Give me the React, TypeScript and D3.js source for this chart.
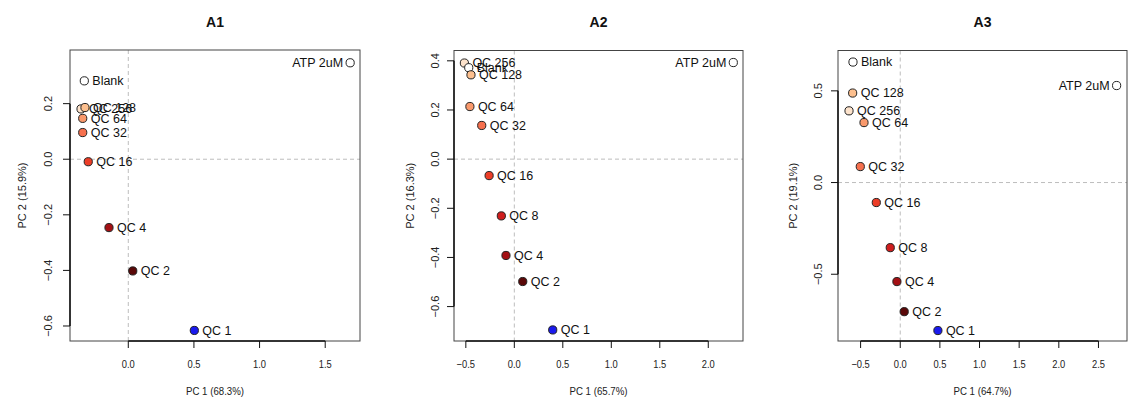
import React from "react";
import * as d3 from "d3";

const titles = ["A1", "A2", "A3"];
const xTitles = ["PC 1 (68.3%)", "PC 1 (65.7%)", "PC 1 (64.7%)"];
const yTitles = ["PC 2 (15.9%)", "PC 2 (16.3%)", "PC 2 (19.1%)"];

const namesA1 = ["ATP 2uM", "Blank", "QC 256", "QC 128", "QC 64", "QC 32", "QC 16", "QC 4", "QC 2", "QC 1"];
const pc1A1 = [1.69, -0.335, -0.36, -0.33, -0.347, -0.347, -0.305, -0.147, 0.034, 0.503];
const pc2A1 = [0.347, 0.282, 0.181, 0.186, 0.147, 0.096, -0.009, -0.246, -0.402, -0.616];

const namesA2 = ["ATP 2uM", "QC 256", "Blank", "QC 128", "QC 64", "QC 32", "QC 16", "QC 8", "QC 4", "QC 2", "QC 1"];
const pc1A2 = [2.258, -0.515, -0.47, -0.447, -0.458, -0.336, -0.26, -0.134, -0.086, 0.087, 0.396];
const pc2A2 = [0.393, 0.391, 0.372, 0.343, 0.214, 0.137, -0.067, -0.231, -0.392, -0.498, -0.695];

const namesA3 = ["Blank", "ATP 2uM", "QC 128", "QC 256", "QC 64", "QC 32", "QC 16", "QC 8", "QC 4", "QC 2", "QC 1"];
const pc1A3 = [-0.596, 2.729, -0.6, -0.646, -0.457, -0.504, -0.302, -0.126, -0.042, 0.05, 0.475];
const pc2A3 = [0.657, 0.529, 0.488, 0.391, 0.327, 0.087, -0.109, -0.355, -0.54, -0.704, -0.807];

const xTicksList = [
  [0, 0.5, 1.0, 1.5],
  [-0.5, 0, 0.5, 1.0, 1.5, 2.0],
  [-0.5, 0, 0.5, 1.0, 1.5, 2.0, 2.5],
];
const yTicksList = [
  [-0.6, -0.4, -0.2, 0, 0.2],
  [-0.6, -0.4, -0.2, 0, 0.2, 0.4],
  [-0.5, 0, 0.5],
];

const xDomains = [[-0.444, 1.765], [-0.622, 2.358], [-0.785, 2.86]];
const yDomains = [[-0.654, 0.393], [-0.74, 0.442], [-0.864, 0.72]];

const sampleColor: Record<string, string> = {
  "ATP 2uM": "#ffffff",
  Blank: "#ffffff",
  "QC 256": "#fde3cc",
  "QC 128": "#fcbf8e",
  "QC 64": "#f9996c",
  "QC 32": "#f6704e",
  "QC 16": "#ec3d27",
  "QC 8": "#cf1e1e",
  "QC 4": "#a31014",
  "QC 2": "#5a0808",
  "QC 1": "#1a1aee",
};

const panels = [
  { names: namesA1, pc1: pc1A1, pc2: pc2A1 },
  { names: namesA2, pc1: pc1A2, pc2: pc2A2 },
  { names: namesA3, pc1: pc1A3, pc2: pc2A3 },
];

const boxes = [
  { left: 70, right: 360, top: 50, bottom: 341, yTickX: 48, yTitleX: 22 },
  { left: 454, right: 743, top: 50.5, bottom: 341, yTickX: 435, yTitleX: 410 },
  { left: 838, right: 1127, top: 50.5, bottom: 341, yTickX: 818, yTitleX: 793 },
];

const fmt = (v: number) => (Math.abs(v) < 1e-9 ? "0.0" : d3.format(".1f")(v).replace("-", "\u2212"));

function Panel({ i }: { i: number }) {
  const b = boxes[i];
  const p = panels[i];
  const x = d3.scaleLinear().domain(xDomains[i]).range([b.left, b.right]);
  const y = d3.scaleLinear().domain(yDomains[i]).range([b.bottom, b.top]);
  const xt = xTicksList[i];
  const yt = yTicksList[i];
  const cx = (b.left + b.right) / 2;
  const cy = (b.top + b.bottom) / 2;
  const font = "'Liberation Sans', Arial, Helvetica, sans-serif";
  return (
    <g>
      <text x={cx} y={27} textAnchor="middle" fontFamily={font} fontWeight="bold" fontSize={14} fill="#111">
        {titles[i]}
      </text>
      <line x1={x(0)} x2={x(0)} y1={b.top} y2={b.bottom} stroke="#bdbdbd" strokeDasharray="4,3" strokeWidth={1} />
      <line x1={b.left} x2={b.right} y1={y(0)} y2={y(0)} stroke="#bdbdbd" strokeDasharray="4,3" strokeWidth={1} />
      <rect x={b.left} y={b.top} width={b.right - b.left} height={b.bottom - b.top} fill="none" stroke="#444" strokeWidth={1} />
      <line x1={x(xt[0])} x2={x(xt[xt.length - 1])} y1={b.bottom} y2={b.bottom} stroke="#111" strokeWidth={1.5} />
      {xt.map((t) => (
        <g key={"x" + t}>
          <line x1={x(t)} x2={x(t)} y1={b.bottom} y2={b.bottom + 7} stroke="#111" strokeWidth={1} />
          <text
            transform={`translate(${x(t)},368) scale(0.85,1)`}
            textAnchor="middle"
            fontFamily={font}
            fontSize={11}
            fill="#222"
          >
            {fmt(t)}
          </text>
        </g>
      ))}
      <text
        transform={`translate(${cx},395) scale(0.88,1)`}
        textAnchor="middle"
        fontFamily={font}
        fontSize={11}
        fill="#222"
      >
        {xTitles[i]}
      </text>
      <line x1={b.left} x2={b.left} y1={y(yt[0])} y2={y(yt[yt.length - 1])} stroke="#111" strokeWidth={1.5} />
      {yt.map((t) => (
        <g key={"y" + t}>
          <line x1={b.left - 7} x2={b.left} y1={y(t)} y2={y(t)} stroke="#111" strokeWidth={1} />
          <text
            transform={`translate(${b.yTickX},${y(t)}) rotate(-90)`}
            textAnchor="middle"
            dy="0.35em"
            fontFamily={font}
            fontSize={11}
            fill="#222"
          >
            {fmt(t)}
          </text>
        </g>
      ))}
      <text
        transform={`translate(${b.yTitleX},${cy}) rotate(-90)`}
        textAnchor="middle"
        dy="0.35em"
        fontFamily={font}
        fontSize={11}
        fill="#222"
      >
        {yTitles[i]}
      </text>
      {p.names.map((n, k) => {
        const px = x(p.pc1[k]);
        const py = y(p.pc2[k]);
        const isAtp = n.startsWith("ATP");
        return (
          <g key={n}>
            <circle cx={px} cy={py} r={4.1} fill={sampleColor[n]} stroke="#222" strokeWidth={1} />
            <text
              x={isAtp ? px - 7 : px + 8}
              y={py}
              dy="0.35em"
              textAnchor={isAtp ? "end" : "start"}
              fontFamily={font}
              fontSize={12.5}
              fill="#111"
            >
              {n}
            </text>
          </g>
        );
      })}
    </g>
  );
}

export default function App() {
  return (
    <svg width={1132} height={402} style={{ position: "absolute", left: 0, top: 0, background: "#fff" }}>
      <rect x={0} y={0} width={1132} height={402} fill="#fff" />
      {[0, 1, 2].map((i) => (
        <Panel key={i} i={i} />
      ))}
    </svg>
  );
}
